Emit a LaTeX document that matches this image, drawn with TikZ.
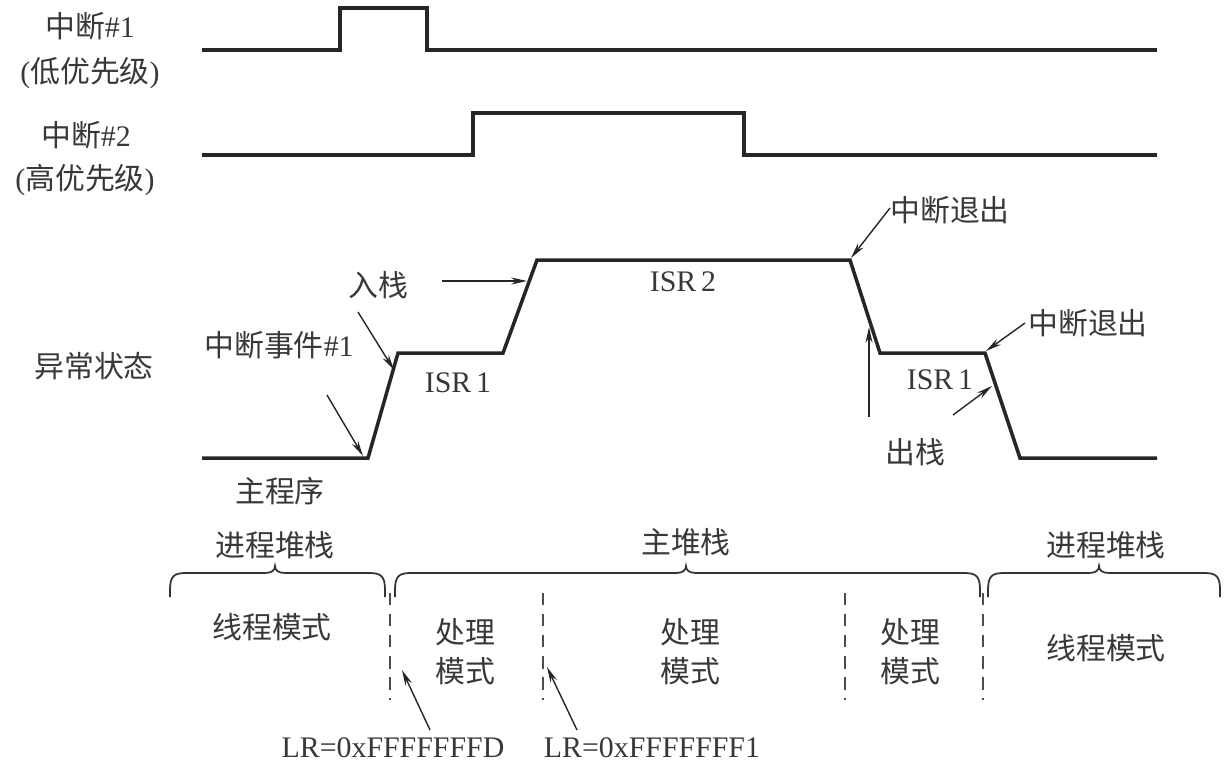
\documentclass[tikz,border=0pt]{standalone}
\usepackage{fontspec}
\setmainfont{Liberation Serif}
\newfontfamily\cjk{Noto Sans CJK SC}
\usetikzlibrary{arrows.meta}

\begin{document}
\begin{tikzpicture}[
    x=0.02cm, y=-0.02cm,
    >={Stealth[length=9pt,width=4pt]},
    signal/.style={line width=2pt, line join=miter, draw=black!85},
    pointer/.style={->, line width=0.8pt, draw=black!85, fill=black!85},
    divider/.style={line width=0.7pt, dash pattern=on 7pt off 5pt, draw=black!70},
    stackbrace/.style={line width=1pt, draw=black!80},
    lbl/.style={font=\fontsize{17}{22}\selectfont, inner sep=0pt, align=center, text=black!78}
]
    \useasboundingbox (0,0) rectangle (1227,775);

    \node[lbl] (irq1) at (90,26) {{\cjk 中断}\#1};
    \node[lbl] (irq1prio) at (90,73) {({\cjk 低优先级})};
    \node[lbl] (irq2) at (86,135) {{\cjk 中断}\#2};
    \node[lbl] (irq2prio) at (85,180) {({\cjk 高优先级})};
    \node[lbl] (exc) at (94,366) {\cjk 异常状态};

    \draw[signal] (202,50) -- (340,50) -- (340,8) -- (427,8) -- (427,50) -- (1157,50);
    \draw[signal] (202,155) -- (473,155) -- (473,113) -- (744,113) -- (744,155) -- (1157,155);

    \coordinate (s0) at (202,458);
    \coordinate (s1) at (368,458);
    \coordinate (s2) at (398,353);
    \coordinate (s3) at (503,353);
    \coordinate (s4) at (537,260);
    \coordinate (s5) at (850,260);
    \coordinate (s6) at (880,353);
    \coordinate (s7) at (985,353);
    \coordinate (s8) at (1020,458);
    \coordinate (s9) at (1157,458);
    \draw[signal] (s0) -- (s1) -- (s2) -- (s3) -- (s4) -- (s5) -- (s6) -- (s7) -- (s8) -- (s9);

    \node[lbl] (event) at (279,345) {{\cjk 中断事件}\#1};
    \node[lbl] (push) at (378,285) {\cjk 入栈};
    \node[lbl] (isr1a) at (458,383) {ISR\,1};
    \node[lbl] (isr2) at (683,282) {ISR\,2};
    \node[lbl] (exit1) at (950,210) {\cjk 中断退出};
    \node[lbl] (exit2) at (1088,323) {\cjk 中断退出};
    \node[lbl] (isr1b) at (940,380) {ISR\,1};
    \node[lbl] (pop) at (915,452) {\cjk 出栈};
    \node[lbl] (main) at (280,491) {\cjk 主程序};

    \coordinate (evt tail) at (327,395);  \coordinate (evt tip) at (363,456);
    \coordinate (push tail) at (358,312); \coordinate (push tip) at (394,370);
    \coordinate (push2 tail) at (442,281); \coordinate (push2 tip) at (527,281);
    \coordinate (exit1 tail) at (890,208); \coordinate (exit1 tip) at (851,258);
    \coordinate (pop tail) at (869,417);  \coordinate (pop tip) at (869,327);
    \coordinate (exit2 tail) at (1025,323); \coordinate (exit2 tip) at (986,351);
    \coordinate (pop2 tail) at (953,415); \coordinate (pop2 tip) at (992,386);
    \draw[pointer] (evt tail) -- (evt tip);
    \draw[pointer] (push tail) -- (push tip);
    \draw[pointer] (push2 tail) -- (push2 tip);
    \draw[pointer] (exit1 tail) -- (exit1 tip);
    \draw[pointer] (pop tail) -- (pop tip);
    \draw[pointer] (exit2 tail) -- (exit2 tip);
    \draw[pointer] (pop2 tail) -- (pop2 tip);

    \foreach \a/\m/\b in {170/275/385, 395/686/980, 988/1099/1220}
        \draw[stackbrace] (\a,597) -- (\a,590) .. controls (\a,576) and (\a+4,573) .. (\a+16,573)
            -- (\m-10,573) .. controls (\m-3,573) and (\m,570) .. (\m,566)
            .. controls (\m,570) and (\m+3,573) .. (\m+10,573)
            -- (\b-16,573) .. controls (\b-4,573) and (\b,576) .. (\b,590) -- (\b,597);

    \node[lbl] (psp1) at (275,545) {\cjk 进程堆栈};
    \node[lbl] (msp) at (686,542) {\cjk 主堆栈};
    \node[lbl] (psp2) at (1106,545) {\cjk 进程堆栈};

    \foreach \x in {390,543,845,983}
        \draw[divider] (\x,593) -- (\x,700);

    \node[lbl] (thread1) at (272,627) {\cjk 线程模式};
    \node[lbl] (handler1) at (465,652) {\cjk 处理\\\cjk 模式};
    \node[lbl] (handler2) at (690,652) {\cjk 处理\\\cjk 模式};
    \node[lbl] (handler3) at (910,652) {\cjk 处理\\\cjk 模式};
    \node[lbl] (thread2) at (1106,648) {\cjk 线程模式};

    \node[lbl] (lr1) at (393,748) {LR=0xFFFFFFFD};
    \node[lbl] (lr2) at (652,748) {LR=0xFFFFFFF1};
    \coordinate (lr1 tail) at (430,730); \coordinate (lr1 tip) at (402,670);
    \coordinate (lr2 tail) at (577,730); \coordinate (lr2 tip) at (547,667);
    \draw[pointer] (lr1 tail) -- (lr1 tip);
    \draw[pointer] (lr2 tail) -- (lr2 tip);
\end{tikzpicture}
\end{document}
